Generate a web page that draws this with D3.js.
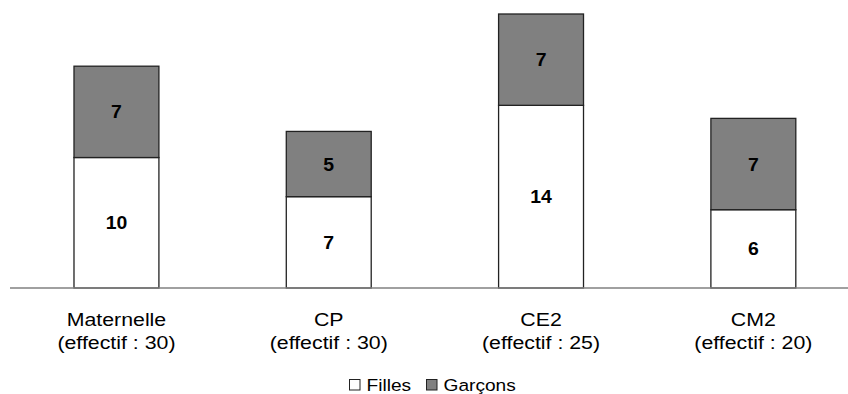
<!DOCTYPE html>
<html>
<head>
<meta charset="utf-8">
<script src="https://cdn.jsdelivr.net/npm/d3@7"></script>
<style>
  html, body { margin: 0; padding: 0; background: #fff; }
  svg { display: block; font-family: "Liberation Sans", Arial, sans-serif; }
</style>
</head>
<body>
<svg id="chart" width="848" height="394"></svg>
<script>
// Classes and their enrolment
const categories = ["Maternelle", "CP", "CE2", "CM2"];
const effectifs = [30, 30, 25, 20];
// Students per class by gender
const filles = [10, 7, 14, 6];
const garcons = [7, 5, 7, 7];
const seriesNames = ["Filles", "Garçons"];
const seriesColors = ["#ffffff", "#808080"];

const svg = d3.select("#chart");

const x = d3.scaleBand()
  .domain(categories)
  .range([10.3, 859.5])
  .paddingInner(0.6)
  .paddingOuter(0.3);

const y = d3.scaleLinear()
  .domain([0, 21])
  .range([288, 14]);

const rows = categories.map((c, i) => ({ cat: c, eff: effectifs[i], values: [filles[i], garcons[i]] }));
const stack = d3.stack().keys([0, 1]).value((d, k) => d.values[k]);
const layers = stack(rows);

// Stacked bars
const layerG = svg.selectAll("g.layer")
  .data(layers)
  .join("g")
  .attr("class", "layer")
  .attr("fill", (d, i) => seriesColors[i]);

layerG.selectAll("rect")
  .data(d => d)
  .join("rect")
  .attr("x", d => x(d.data.cat))
  .attr("y", d => y(d[1]))
  .attr("width", x.bandwidth())
  .attr("height", d => y(d[0]) - y(d[1]))
  .attr("stroke", "#222")
  .attr("stroke-width", 1.3);

// Text helper: places text with a slight horizontal widening
function wideText(parent, tx, ty, str, size, weight, sx, anchor) {
  const g = parent.append("g").attr("transform", `translate(${tx},${ty}) scale(${sx},1)`);
  g.append("text")
    .attr("text-anchor", anchor || "middle")
    .attr("font-size", size)
    .attr("font-weight", weight || "normal")
    .attr("fill", "#000")
    .text(str);
  return g;
}

// Value labels centred in each segment
const labelsG = svg.append("g");
layers.forEach((layer, k) => {
  layer.forEach(d => {
    const cx = x(d.data.cat) + x.bandwidth() / 2;
    const cy = (y(d[0]) + y(d[1])) / 2 + 6.5;
    wideText(labelsG, cx, cy, d.data.values[k], 18.5, "bold", 1.05);
  });
});

// Baseline axis
svg.append("line")
  .attr("x1", 10).attr("x2", 848)
  .attr("y1", y(0)).attr("y2", y(0))
  .attr("stroke", "#808080")
  .attr("stroke-width", 1.5);

// Category labels
const catG = svg.append("g");
rows.forEach(r => {
  const cx = x(r.cat) + x.bandwidth() / 2;
  wideText(catG, cx, 326, r.cat, 18.7, "normal", 1.14);
  wideText(catG, cx, 348.5, `(effectif : ${r.eff})`, 18.7, "normal", 1.14);
});

// Legend
const legendX = [349.5, 426.5];
const legendG = svg.append("g");
seriesNames.forEach((name, i) => {
  legendG.append("rect")
    .attr("x", legendX[i]).attr("y", 379.5)
    .attr("width", 10.5).attr("height", 10.5)
    .attr("fill", seriesColors[i])
    .attr("stroke", "#222")
    .attr("stroke-width", 1);
  wideText(legendG, legendX[i] + 17, 390.5, name, 16.5, "normal", 1.16, "start");
});
</script>
</body>
</html>
